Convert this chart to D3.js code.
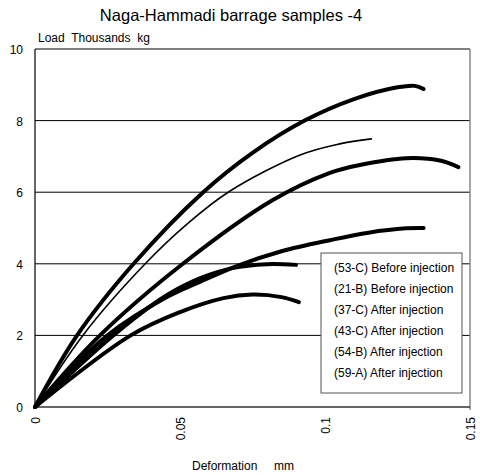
<!DOCTYPE html>
<html>
<head>
<meta charset="utf-8">
<script src="https://cdn.jsdelivr.net/npm/d3@7"></script>
<style>
  body { margin: 0; background: #fff; }
  text { font-family: "Liberation Sans", Arial, sans-serif; fill: #000; }
</style>
</head>
<body>
<div id="chart"></div>
<script>
// curves: [deformation mm, load thousands kg]
const curve53C = [[0,0],[0.0145,2],[0.034,4],[0.058,6],[0.075,7.1],[0.093,8],[0.11,8.6],[0.125,8.93],[0.131,8.97],[0.134,8.88]];
const curve21B = [[0,0],[0.0165,2],[0.038,4],[0.053,5.15],[0.067,6.02],[0.0914,7.04],[0.105,7.35],[0.116,7.49]];
const curve37C = [[0,0],[0.0224,2],[0.051,4],[0.082,5.78],[0.1017,6.54],[0.112,6.76],[0.128,6.95],[0.14,6.88],[0.146,6.7]];
const curve43C = [[0,0],[0.025,2],[0.045,3.05],[0.057,3.5],[0.07,3.95],[0.085,4.35],[0.1017,4.66],[0.115,4.87],[0.128,4.99],[0.134,5.0]];
const curve54B = [[0,0],[0.027,2],[0.045,3.1],[0.057,3.6],[0.068,3.88],[0.08,3.99],[0.09,3.97]];
const curve59A = [[0,0],[0.033,2],[0.05,2.65],[0.065,3.04],[0.075,3.14],[0.085,3.07],[0.091,2.93]];

const legendLabels = ["(53-C) Before injection", "(21-B) Before injection", "(37-C) After injection",
                      "(43-C) After injection", "(54-B) After injection", "(59-A) After injection"];
const yTicks = [0, 2, 4, 6, 8, 10];
const xTicks = [0, 0.05, 0.1, 0.15];
const xTickLabels = ["0", "0.05", "0.1", "0.15"];

const width = 480, height = 475;
const margin = { top: 49, right: 10, bottom: 68, left: 35 };

const svg = d3.select("#chart").append("svg")
  .attr("width", width)
  .attr("height", height);

const x = d3.scaleLinear().domain([0, 0.15]).range([margin.left, width - margin.right]);
const y = d3.scaleLinear().domain([0, 10]).range([height - margin.bottom, margin.top]);

// gridlines
svg.selectAll(".grid")
  .data(yTicks.filter(d => d > 0 && d < 10))
  .join("line")
  .attr("x1", x(0)).attr("x2", x(0.15))
  .attr("y1", d => y(d)).attr("y2", d => y(d))
  .attr("stroke", "#000").attr("stroke-width", 1);

// frame
svg.append("line").attr("x1", x(0)).attr("x2", x(0.15)).attr("y1", y(10)).attr("y2", y(10))
  .attr("stroke", "#000").attr("stroke-width", 1.2);
svg.append("line").attr("x1", x(0.15)).attr("x2", x(0.15)).attr("y1", y(10)).attr("y2", y(0) + 3)
  .attr("stroke", "#888").attr("stroke-width", 1.5);
svg.append("line").attr("x1", x(0)).attr("x2", x(0)).attr("y1", y(10)).attr("y2", y(0))
  .attr("stroke", "#000").attr("stroke-width", 1.2);
svg.append("line").attr("x1", x(0)).attr("x2", x(0.15)).attr("y1", y(0)).attr("y2", y(0))
  .attr("stroke", "#333").attr("stroke-width", 1.5);

// y tick labels
svg.selectAll(".ylab")
  .data(yTicks)
  .join("text")
  .attr("x", 23)
  .attr("y", d => y(d) + 5)
  .attr("text-anchor", "end")
  .attr("font-size", 12)
  .text(d => d);

// x tick labels, rotated
svg.selectAll(".xlab")
  .data(xTicks)
  .join("text")
  .attr("transform", d => `translate(${x(d) + 5},${y(0) + 10}) rotate(-90)`)
  .attr("text-anchor", "end")
  .attr("font-size", 12)
  .text((d, i) => xTickLabels[i]);

// curves
const line = d3.line()
  .x(d => x(d[0]))
  .y(d => y(d[1]))
  .curve(d3.curveCatmullRom);

const curves = [curve53C, curve21B, curve37C, curve43C, curve54B, curve59A];
const widths = [4, 1.6, 4, 4, 4, 4];

svg.selectAll(".curve")
  .data(curves)
  .join("path")
  .attr("d", line)
  .attr("fill", "none")
  .attr("stroke", "#000")
  .attr("stroke-width", (d, i) => widths[i])
  .attr("stroke-linecap", "round");

// legend
const legendX = 321, legendY = 253;
svg.append("rect")
  .attr("x", legendX).attr("y", legendY)
  .attr("width", 141).attr("height", 140)
  .attr("fill", "#fff")
  .attr("stroke", "#555").attr("stroke-width", 1);

svg.selectAll(".leg")
  .data(legendLabels)
  .join("text")
  .attr("x", legendX + 13)
  .attr("y", (d, i) => legendY + 19 + i * 21)
  .attr("font-size", 12)
  .text(d => d);

// titles
svg.append("text")
  .attr("x", 231).attr("y", 21)
  .attr("text-anchor", "middle")
  .attr("font-size", 16.5)
  .text("Naga-Hammadi barrage samples -4");

svg.append("text")
  .attr("x", 38).attr("y", 42)
  .attr("font-size", 12)
  .style("white-space", "pre")
  .text("Load  Thousands  kg");

svg.append("text")
  .attr("x", 243).attr("y", 470)
  .attr("text-anchor", "middle")
  .attr("font-size", 12)
  .style("white-space", "pre")
  .text("Deformation     mm");
</script>
</body>
</html>
